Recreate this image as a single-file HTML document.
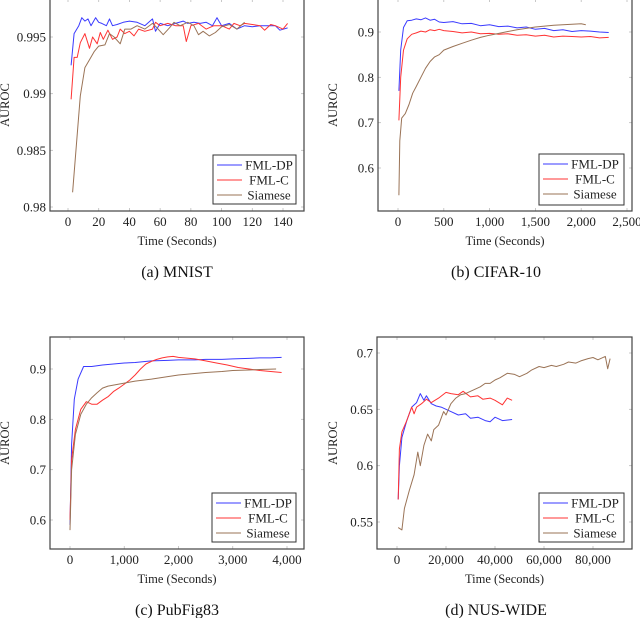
<!DOCTYPE html>
<html><head><meta charset="utf-8">
<style>
html,body{margin:0;padding:0;background:#fff;}
svg{display:block;font-family:"Liberation Serif","DejaVu Serif",serif;}
</style></head>
<body>
<svg id="root" width="640" height="618" viewBox="0 0 640 618" xmlns="http://www.w3.org/2000/svg"></svg>
<script>
// ---------- data ----------
const seriesNames = ["FML-DP","FML-C","Siamese"];
const seriesColors = ["#3a3aff","#ff3333","#9a7356"];

// (a) MNIST
const aXTicks = [0,20,40,60,80,100,120,140];
const aYTicks = [0.98,0.985,0.99,0.995];
const aYTickLabels = ["0.98","0.985","0.99","0.995"];
const aDPx = [2,4,7,9,11,13,15,18,20,22,25,27,29,32,36,40,45,50,55,57,60,65,70,75,78,82,86,90,94,97,100,105,110,115,120,125,130,135,138,143];
const aDPy = [.9925,.9953,.9960,.9967,.9964,.9966,.9960,.9967,.9963,.9962,.9960,.9966,.9960,.9961,.9963,.9964,.9963,.9960,.9966,.9955,.9962,.9960,.9962,.9964,.9962,.9963,.9962,.9963,.9960,.9967,.9960,.9962,.9957,.9960,.9959,.9960,.9960,.9960,.9956,.9958];
const aCx = [2,4,6,8,11,14,16,19,21,23,26,29,32,34,37,40,43,46,50,55,57,60,65,70,75,77,80,85,90,95,100,105,108,112,115,120,125,128,132,135,140,143];
const aCy = [.9895,.9932,.9932,.9945,.9953,.9940,.9950,.9944,.9954,.9948,.9956,.9948,.9950,.9957,.9953,.9955,.9951,.9957,.9955,.9957,.9963,.9960,.9962,.9960,.9960,.9946,.9960,.9962,.9957,.9960,.9960,.9957,.9962,.9960,.9962,.9961,.9960,.9956,.9961,.9960,.9957,.9962];
const aSx = [3,8,11,14,17,20,24,27,30,34,37,41,45,50,55,58,62,66,69,73,78,82,85,88,92,96,100,105,110,115];
const aSy = [.9813,.9898,.9923,.9930,.9937,.9942,.9943,.9953,.9950,.9944,.9957,.9957,.9960,.9957,.9962,.9958,.9952,.9958,.9963,.9960,.9963,.9960,.9952,.9955,.9951,.9954,.9959,.9961,.9957,.9963];

// (b) CIFAR-10
const bXTicks = [0,500,1000,1500,2000,2500];
const bXTickLabels = ["0","500","1,000","1,500","2,000","2,500"];
const bYTicks = [0.6,0.7,0.8,0.9];
const bYTickLabels = ["0.6","0.7","0.8","0.9"];
const bDPx = [10,30,60,100,150,200,250,300,350,400,450,500,600,700,800,900,1000,1100,1200,1300,1400,1500,1600,1700,1800,1900,2000,2100,2200,2300];
const bDPy = [.77,.86,.91,.925,.926,.929,.927,.931,.926,.928,.922,.921,.923,.918,.919,.914,.916,.912,.913,.909,.911,.906,.908,.903,.905,.901,.903,.902,.900,.899];
const bCx = [10,30,60,100,150,200,250,300,350,400,450,500,600,700,800,900,1000,1100,1200,1300,1400,1500,1600,1700,1800,1900,2000,2100,2200,2300];
const bCy = [.705,.80,.86,.885,.895,.898,.902,.900,.905,.903,.906,.903,.901,.898,.900,.896,.897,.895,.896,.893,.894,.891,.893,.889,.891,.890,.889,.890,.887,.888];
const bSx = [10,20,40,80,120,160,200,250,300,350,400,450,500,600,700,800,900,1000,1100,1200,1300,1400,1500,1600,1700,1800,1900,2000,2050];
const bSy = [.54,.66,.71,.72,.74,.765,.78,.80,.82,.835,.845,.85,.86,.868,.875,.882,.888,.893,.897,.901,.905,.908,.911,.913,.915,.916,.917,.918,.916];

// (c) PubFig83
const cXTicks = [0,1000,2000,3000,4000];
const cXTickLabels = ["0","1,000","2,000","3,000","4,000"];
const cYTicks = [0.6,0.7,0.8,0.9];
const cYTickLabels = ["0.6","0.7","0.8","0.9"];
const cDPx = [0,30,80,150,250,400,600,800,1000,1200,1500,1800,2000,2300,2500,2800,3000,3300,3500,3700,3900];
const cDPy = [.59,.75,.84,.88,.905,.905,.908,.910,.912,.913,.916,.917,.918,.918,.919,.919,.920,.921,.922,.922,.923];
const cCx = [0,30,100,200,300,400,500,600,700,800,900,1000,1100,1200,1300,1400,1500,1600,1700,1800,1900,2000,2100,2300,2500,2700,2900,3100,3300,3500,3700,3900];
const cCy = [.60,.72,.78,.82,.835,.830,.830,.838,.845,.855,.862,.870,.878,.888,.900,.910,.915,.919,.922,.924,.925,.923,.922,.920,.916,.912,.908,.903,.900,.897,.895,.893];
const cSx = [0,30,100,200,300,400,500,600,700,800,1000,1200,1500,1800,2000,2200,2500,2800,3000,3300,3500,3800];
const cSy = [.58,.70,.77,.81,.83,.843,.853,.862,.866,.868,.872,.876,.880,.885,.888,.890,.893,.895,.897,.898,.899,.900];

// (d) NUS-WIDE
const dXTicks = [0,20000,40000,60000,80000];
const dXTickLabels = ["0","20,000","40,000","60,000","80,000"];
const dYTicks = [0.55,0.6,0.65,0.7];
const dYTickLabels = ["0.55","0.6","0.65","0.7"];
const dDPx = [500,1000,2000,4000,6000,8000,9500,11000,12000,14000,16000,18000,20000,22000,25000,28000,30000,33000,36000,38000,40000,43000,47000];
const dDPy = [.57,.60,.625,.64,.652,.656,.664,.658,.662,.655,.653,.652,.650,.648,.645,.646,.642,.643,.640,.639,.643,.640,.641];
const dCx = [500,1000,2000,4000,6000,7000,8000,10000,12000,14000,17000,20000,22000,25000,27000,30000,33000,35000,38000,40000,43000,45000,47000];
const dCy = [.57,.615,.63,.64,.652,.646,.652,.655,.659,.656,.660,.665,.664,.663,.666,.661,.662,.659,.660,.658,.654,.660,.658];
const dSx = [500,2000,3000,5000,7000,8500,9500,11000,12500,14000,15000,17000,19000,20000,22000,24000,26000,28000,30000,32000,34000,36000,38000,40000,42000,45000,48000,50000,53000,55000,58000,60000,63000,65000,68000,70000,73000,75000,78000,80000,82000,85000,86000,87000];
const dSy = [.545,.543,.562,.578,.592,.612,.600,.618,.628,.622,.632,.636,.648,.645,.655,.660,.663,.664,.666,.668,.670,.673,.673,.676,.678,.682,.681,.679,.682,.685,.688,.687,.689,.688,.690,.692,.691,.693,.695,.696,.694,.697,.686,.695];

// ---------- drawing ----------
const NS = "http://www.w3.org/2000/svg";
const root = document.getElementById("root");
function mk(tag, attrs, parent){
  const e = document.createElementNS(NS, tag);
  for (const k in attrs) e.setAttribute(k, attrs[k]);
  (parent||root).appendChild(e);
  return e;
}
function linScale(v0,v1,p0,p1){ return v => p0 + (v - v0) * (p1 - p0) / (v1 - v0); }

function panel(cfg){
  const g = mk("g", {});
  
  
  const X = linScale(cfg.xv[0], cfg.xv[1], cfg.xp[0], cfg.xp[1]);
  const Y = linScale(cfg.yv[0], cfg.yv[1], cfg.yp[0], cfg.yp[1]);
  const L = cfg.box[0], T = cfg.box[1], R = cfg.box[2], B = cfg.box[3];
  cfg.xTicks.forEach((t,i) => {
    const x = X(t);
    mk("line",{x1:x,x2:x,y1:B,y2:B-3,stroke:"#bbb","stroke-width":0.8},g);
    mk("line",{x1:x,x2:x,y1:T,y2:T+3,stroke:"#bbb","stroke-width":0.8},g);
    const tx = mk("text",{x:x,y:B+15,"font-size":"13","text-anchor":"middle",fill:"#222"},g);
    
    
    tx.textContent = cfg.xTickLabels ? cfg.xTickLabels[i] : String(t);
  });
  cfg.yTicks.forEach((t,i) => {
    const y = Y(t);
    mk("line",{x1:L,x2:L+3,y1:y,y2:y,stroke:"#bbb","stroke-width":0.8},g);
    mk("line",{x1:R,x2:R-3,y1:y,y2:y,stroke:"#bbb","stroke-width":0.8},g);
    const ty = mk("text",{x:L-4,y:y+4.5,"font-size":"13","text-anchor":"end",fill:"#222"},g);
    
    
    ty.textContent = cfg.yTickLabels[i];
  });
  const cp = mk("clipPath",{id:"clip-"+cfg.name},g);
  mk("rect",{x:L,y:T,width:R-L,height:B-T},cp);
  cfg.series.forEach((s,si) => {
    const pts = s[0].map((xv,i) => X(xv).toFixed(1)+","+Y(s[1][i]).toFixed(1)).join(" ");
    const pl = mk("polyline",{points:pts,fill:"none",stroke:seriesColors[si],"stroke-width":1,"stroke-linejoin":"round","clip-path":"url(#clip-"+cfg.name+")"},g);
    
    
  });
  const fr = mk("rect",{x:L,y:T,width:R-L,height:B-T,fill:"none",stroke:"#444","stroke-width":1.2},g);
  
  
  const lg = mk("g",{},g);
  
  
  const lx = cfg.leg[0], ly = cfg.leg[1], lw = cfg.leg[2], lh = cfg.leg[3];
  mk("rect",{x:lx,y:ly,width:lw,height:lh,fill:"#fff",stroke:"#333","stroke-width":1},lg);
  seriesNames.forEach((n,i) => {
    const yy = ly + 10 + i*15;
    mk("line",{x1:lx+4,x2:lx+29,y1:yy,y2:yy,stroke:seriesColors[i],"stroke-width":1},lg);
    const t = mk("text",{x:lx+56,y:yy+4.3,"font-size":"13","text-anchor":"middle",fill:"#222"},lg);
    
    
    t.textContent = n;
  });
  const xt = mk("text",{x:(L+R)/2,y:B+34,"font-size":"12.5","text-anchor":"middle",fill:"#222"},g);
  
  
  xt.textContent = "Time (Seconds)";
  const yt = mk("text",{x:0,y:0,"font-size":"12.5","text-anchor":"middle",fill:"#222",transform:"translate("+cfg.ylabX+","+((T+B)/2)+") rotate(-90)"},g);
  
  
  yt.textContent = "AUROC";
  const cap = mk("text",{x:cfg.capX,y:B+66,"font-size":"16","text-anchor":"middle",fill:"#111"},g);
  
  
  cap.textContent = cfg.caption;
}

panel({name:"chart-mnist",box:[50,-1,304,211],xv:[0,140],xp:[68,283],yv:[0.98,0.995],yp:[207,37],
  xTicks:aXTicks,yTicks:aYTicks,yTickLabels:aYTickLabels,
  series:[[aDPx,aDPy],[aCx,aCy],[aSx,aSy]],leg:[213,155,83,49],ylabX:9,capX:177,caption:"(a) MNIST"});
panel({name:"chart-cifar10",box:[378,-1,632,211],xv:[0,2500],xp:[398,627],yv:[0.6,0.9],yp:[168,32],
  xTicks:bXTicks,xTickLabels:bXTickLabels,yTicks:bYTicks,yTickLabels:bYTickLabels,
  series:[[bDPx,bDPy],[bCx,bCy],[bSx,bSy]],leg:[539,154,85,51],ylabX:337,capX:496,caption:"(b) CIFAR-10"});
panel({name:"chart-pubfig83",box:[50,337,304,549],xv:[0,4000],xp:[70,287],yv:[0.6,0.9],yp:[520,369],
  xTicks:cXTicks,xTickLabels:cXTickLabels,yTicks:cYTicks,yTickLabels:cYTickLabels,
  series:[[cDPx,cDPy],[cCx,cCy],[cSx,cSy]],leg:[212,493,84,49],ylabX:9,capX:177,caption:"(c) PubFig83"});
panel({name:"chart-nuswide",box:[377,337,632,549],xv:[0,80000],xp:[397,593],yv:[0.55,0.7],yp:[522,353],
  xTicks:dXTicks,xTickLabels:dXTickLabels,yTicks:dYTicks,yTickLabels:dYTickLabels,
  series:[[dDPx,dDPy],[dCx,dCy],[dSx,dSy]],leg:[539,493,85,49],ylabX:337,capX:496,caption:"(d) NUS-WIDE"});
</script>
</body></html>
